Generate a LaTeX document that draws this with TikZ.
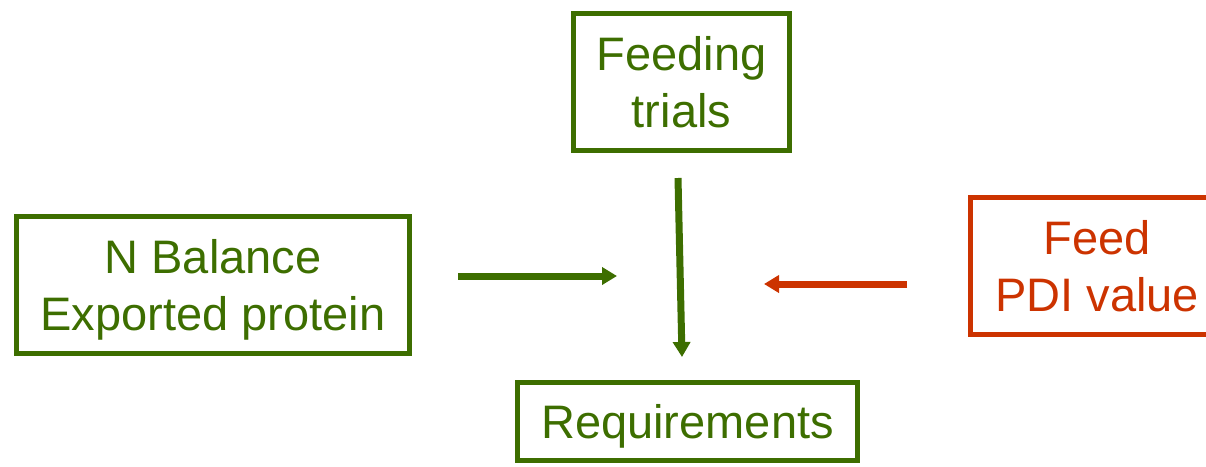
\documentclass[tikz,border=0pt]{standalone}
\usepackage{fontspec}
\setmainfont{Liberation Sans}
\usetikzlibrary{arrows.meta}
\definecolor{dgreen}{HTML}{3D6E00}
\definecolor{dred}{HTML}{CC3300}
\tikzset{
  boxg/.style={draw=dgreen, line width=5pt, text=dgreen, align=center, inner sep=0pt,
    text depth=0pt, font=\fontsize{47}{57}\selectfont},
  boxr/.style={boxg, draw=dred, text=dred},
  arrg/.style={draw=dgreen, line width=7pt, -{Triangle[length=15pt,width=17pt]}},
  arrr/.style={draw=dred, line width=7pt, -{Triangle[length=15pt,width=17pt]}},
}
\begin{document}
\begin{tikzpicture}[x=1pt,y=-1pt]
\clip (0,0) rectangle (1206,466);
\node[boxg, minimum width=216pt, minimum height=137pt] (feed) at (681.5,82) {Feeding\\trials};
\node[boxg, minimum width=393pt, minimum height=137pt] (nbal) at (213,285) {N Balance\\Exported protein};
\node[boxr, minimum width=253pt, minimum height=137pt] (pdi) at (1097,266) {Feed\\PDI value};
\node[boxg, minimum width=340pt, minimum height=78pt] (req) at (687.5,421.5) {Requirements};
\coordinate (vs) at (678,178);
\coordinate (ve) at (682,357);
\coordinate (ls) at (458,276);
\coordinate (le) at (617,276);
\coordinate (rs) at (907,284);
\coordinate (re) at (764,284);
\draw[arrg] (vs) -- (ve);
\draw[arrg] (ls) -- (le);
\draw[arrr] (rs) -- (re);
\end{tikzpicture}
\end{document}
